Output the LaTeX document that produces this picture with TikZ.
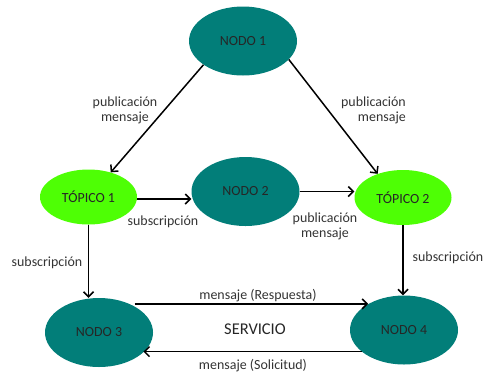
\documentclass[tikz,border=0pt]{standalone}
\usepackage{fontspec}
\setmainfont{Carlito}
\usetikzlibrary{shapes.geometric,arrows.meta}
\definecolor{teal1}{HTML}{027E79}
\definecolor{lime1}{HTML}{4EFF05}
\definecolor{lbl}{HTML}{333333}
\begin{document}
\begin{tikzpicture}[x=1bp,y=-1bp,
  nodo/.style={ellipse,fill=teal1,inner sep=0pt,minimum width=108bp,minimum height=69bp,font=\fontsize{14}{15}\selectfont,text=black!85},
  topico/.style={ellipse,fill=lime1,inner sep=0pt,minimum width=97bp,minimum height=55bp,font=\fontsize{14}{15}\selectfont,text=black!85},
  lab/.style={font=\fontsize{14}{15}\selectfont,text=lbl,inner sep=0pt},
  arr/.style={line width=1.5bp,-{Straight Barb[length=5bp,width=10bp,line width=1.5bp]}}]
\useasboundingbox (0,0) rectangle (485,376);
\node[nodo] (n1) at (243,41) {NODO 1};
\node[topico] (t1) at (88.5,197) {TÓPICO 1};
\node[nodo] (n2) at (245.5,191.5) {NODO 2};
\node[topico] (t2) at (403,197.5) {TÓPICO 2};
\node[nodo] (n3) at (99,332.5) {NODO 3};
\node[nodo] (n4) at (404,330) {NODO 4};

\draw[arr] (n1.211) -- (t1.48);
\draw[arr] (n1.338) -- (t2.137);
\draw[arr] ([yshift=-2bp]t1.east) -- ([yshift=-2bp]t1.east -| n2.west);
\draw[arr] (n2.east) -- (n2.east -| t2.west);
\draw[arr] (t1.south) -- (t1.south |- n3.north);
\draw[arr] (t2.south) -- (t2.south |- n4.north);
\draw[arr,shorten <=5bp] (n3.43.5) -- (n3.43.5 -| n4.144);
\draw[arr] (n4.207.6) -- (n4.207.6 -| n3.336.3);

\node[lab,align=center] (l1) at (125,110.5) {publicación\\mensaje};
\node[lab,align=right,anchor=east] (l2) at (406,110.5) {publicación\\mensaje};
\node[lab] (l3) at (163,222) {subscripción};
\node[lab,align=center] (l4) at (325,226) {publicación\\mensaje};
\node[lab] (l5) at (47,263) {subscripción};
\node[lab] (l6) at (448,258) {subscripción};
\node[lab] (l7) at (258,296) {mensaje (Respuesta)};
\node[lab,font=\fontsize{16.5}{18}\selectfont,text=black!85] (sv) at (255,329) {SERVICIO};
\node[lab] (l8) at (253,366) {mensaje (Solicitud)};
\end{tikzpicture}
\end{document}
